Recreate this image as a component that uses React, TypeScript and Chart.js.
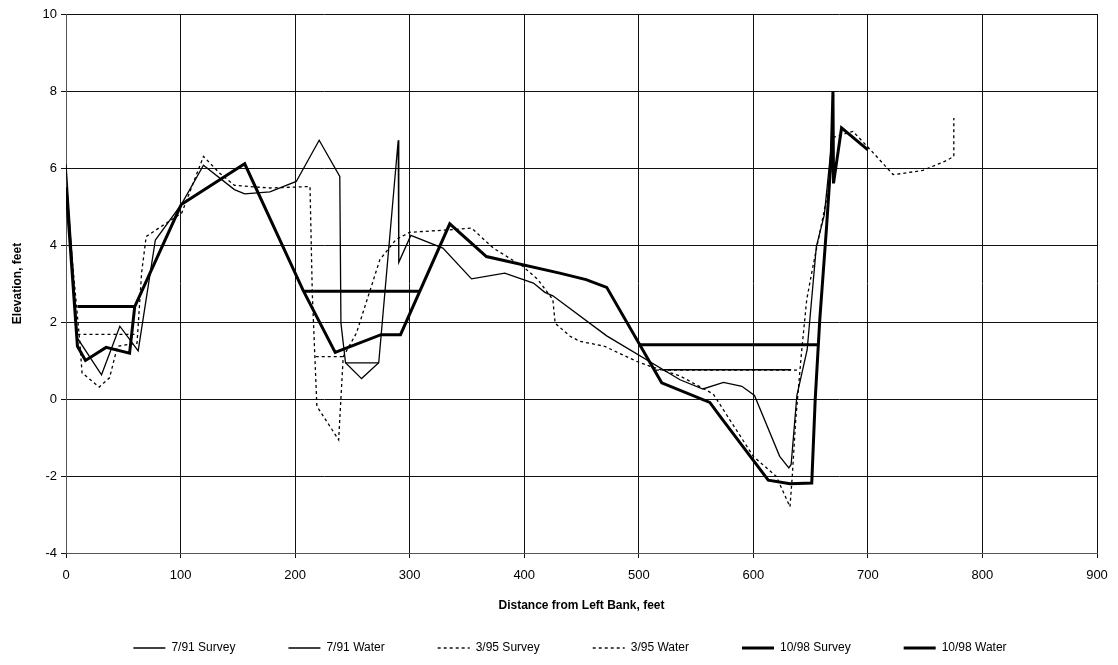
import React, { useEffect, useRef } from "react";
import { Chart, registerables } from "chart.js";

Chart.register(...registerables);

// ---- Data (x = distance from left bank, ft; y = elevation, ft) ----
const survey91X = [0, 10, 31, 47, 63, 78, 101, 120, 147, 156, 178, 201, 221, 239, 240, 244, 258, 273, 290, 290.5, 301, 329, 354, 383, 408, 418, 425, 472, 536, 556, 574, 590, 601, 623, 631, 633, 638, 647, 655, 662, 668, 670];
const survey91Y = [6.1, 1.58, 0.63, 1.89, 1.25, 4.13, 5.07, 6.07, 5.44, 5.33, 5.38, 5.65, 6.72, 5.78, 1.97, 0.94, 0.53, 0.94, 6.72, 3.55, 4.25, 3.92, 3.12, 3.27, 3.01, 2.77, 2.68, 1.64, 0.5, 0.26, 0.43, 0.33, 0.09, -1.49, -1.79, -1.7, 0.09, 1.28, 3.96, 4.79, 6.56, 7.9];

const water91X = [244, 273, null, 522, 633];
const water91Y = [0.94, 0.94, null, 0.76, 0.76];

const survey95X = [0, 12, 14, 29, 38, 45, 62, 66, 70, 79, 101, 120, 134, 147, 178, 213, 215, 219, 238, 242, 253.5, 274, 288, 300, 338, 354, 373, 399, 412, 425, 427, 440, 448.5, 470, 498, 510, 536, 565, 600, 620, 632, 634, 637, 642, 646.6, 652, 665, 668, 670, 687, 702, 722, 731, 748, 767, 775, 775];
const survey95Y = [5.4, 1.5, 0.68, 0.31, 0.55, 1.37, 1.45, 3.28, 4.22, 4.4, 4.83, 6.3, 5.87, 5.55, 5.48, 5.52, 2.75, -0.19, -1.06, 1.1, 1.71, 3.62, 4.14, 4.33, 4.4, 4.44, 3.92, 3.44, 3.1, 2.58, 1.97, 1.63, 1.5, 1.37, 0.98, 0.85, 0.6, 0.13, -1.49, -2.01, -2.8, -2.0, -0.54, 1.19, 2.58, 3.44, 5.35, 6.0, 6.8, 6.95, 6.48, 5.83, 5.86, 5.94, 6.17, 6.3, 7.3];

const water95X = [10, 62, null, 218, 244, null, 515, 639];
const water95Y = [1.68, 1.68, null, 1.1, 1.1, null, 0.75, 0.75];

const survey98X = [0, 10, 17, 35, 55.5, 60, 100.6, 156, 207, 235, 275, 292, 335, 367, 431, 454, 472, 520, 562, 571, 613, 632, 651, 654, 658, 664, 668, 669.5, 670, 677, 700];
const survey98Y = [5.5, 1.37, 1.0, 1.34, 1.19, 2.4, 5.05, 6.11, 2.82, 1.21, 1.67, 1.67, 4.55, 3.7, 3.27, 3.1, 2.9, 0.42, -0.09, -0.45, -2.11, -2.2, -2.18, -0.02, 2.06, 4.5, 6.3, 8.0, 5.6, 7.04, 6.47];

const water98X = [10, 60, null, 207, 309, null, 501, 657];
const water98Y = [2.4, 2.4, null, 2.8, 2.8, null, 1.41, 1.41];

const seriesLabels = ["7/91 Survey", "7/91 Water", "3/95 Survey", "3/95 Water", "10/98 Survey", "10/98 Water"];

const xTickMin = 0;
const xTickMax = 900;
const xTickStep = 100;
const yTickMin = -4;
const yTickMax = 10;
const yTickStep = 2;

const xTitle = "Distance from Left Bank, feet";
const yTitle = "Elevation, feet";

function pts(xs: (number | null)[], ys: (number | null)[]) {
  return xs.map((x, i) => ({ x: x as any, y: ys[i] as any }));
}

const FONT = "'Liberation Sans', Arial, Helvetica, sans-serif";

export default function App() {
  const ref = useRef<HTMLCanvasElement | null>(null);

  useEffect(() => {
    if (!ref.current) return;
    const thin = 1.3;
    const thick = 3;
    const dash = [3, 3];
    const mk = (label: string, data: any[], width: number, d: number[]) => ({
      label,
      data,
      showLine: true,
      borderColor: "#000",
      backgroundColor: "#000",
      borderWidth: width,
      borderDash: d,
      pointRadius: 0,
      pointHoverRadius: 0,
      spanGaps: false,
      tension: 0,
      fill: false,
    });
    const chart = new Chart(ref.current, {
      type: "scatter",
      data: {
        datasets: [
          mk(seriesLabels[0], pts(survey91X, survey91Y), thin, []),
          mk(seriesLabels[1], pts(water91X, water91Y), thin, []),
          mk(seriesLabels[2], pts(survey95X, survey95Y), thin, dash),
          mk(seriesLabels[3], pts(water95X, water95Y), thin, dash),
          mk(seriesLabels[4], pts(survey98X, survey98Y), thick, []),
          mk(seriesLabels[5], pts(water98X, water98Y), thick, []),
        ] as any,
      },
      options: {
        animation: false,
        responsive: false,
        maintainAspectRatio: false,
        layout: { padding: { left: 43, right: 21, top: 14, bottom: 1 } },
        plugins: {
          tooltip: { enabled: false },
          legend: {
            position: "bottom",
            labels: {
              usePointStyle: true,
              pointStyle: "line",
              pointStyleWidth: 32,
              boxHeight: 12,
              padding: 53,
              color: "#000",
              font: { family: FONT, size: 12 },
              generateLabels: (c: any) =>
                c.data.datasets.map((ds: any, i: number) => ({
                  text: ds.label,
                  fillStyle: "#000",
                  strokeStyle: "#000",
                  fontColor: "#000",
                  lineWidth: ds.borderWidth === thin ? 1.4 : ds.borderWidth,
                  lineDash: ds.borderDash,
                  lineCap: "butt",
                  pointStyle: "line",
                  hidden: false,
                  datasetIndex: i,
                })),
            },
          },
        },
        scales: {
          x: {
            type: "linear",
            min: xTickMin,
            max: xTickMax,
            afterFit: (s: any) => {
              s.height = 36;
            },
            ticks: {
              stepSize: xTickStep,
              color: "#000",
              padding: 10,
              font: { family: FONT, size: 13 },
            },
            grid: { color: "#111", lineWidth: 1, tickLength: 5 },
            border: { color: "#555", width: 1 },
            title: {
              display: true,
              text: xTitle,
              color: "#000",
              font: { family: FONT, size: 12, weight: "bold" },
              padding: { top: 0, bottom: -24 },
            },
          },
          y: {
            type: "linear",
            min: yTickMin,
            max: yTickMax,
            afterFit: (s: any) => {
              s.width = 23;
            },
            ticks: {
              stepSize: yTickStep,
              color: "#000",
              padding: 4,
              font: { family: FONT, size: 13 },
            },
            grid: { color: "#111", lineWidth: 1, tickLength: 5 },
            border: { color: "#555", width: 1 },
            title: {
              display: true,
              text: yTitle,
              color: "#000",
              font: { family: FONT, size: 12, weight: "bold" },
              padding: { top: -33, bottom: 0 },
            },
          },
        },
      },
    });
    return () => chart.destroy();
  }, []);

  return (
    <div style={{ position: "absolute", left: 0, top: 0, width: 1118, height: 665, background: "#fff" }}>
      <canvas ref={ref} width={1118} height={665} style={{ width: 1118, height: 665 }} />
    </div>
  );
}
